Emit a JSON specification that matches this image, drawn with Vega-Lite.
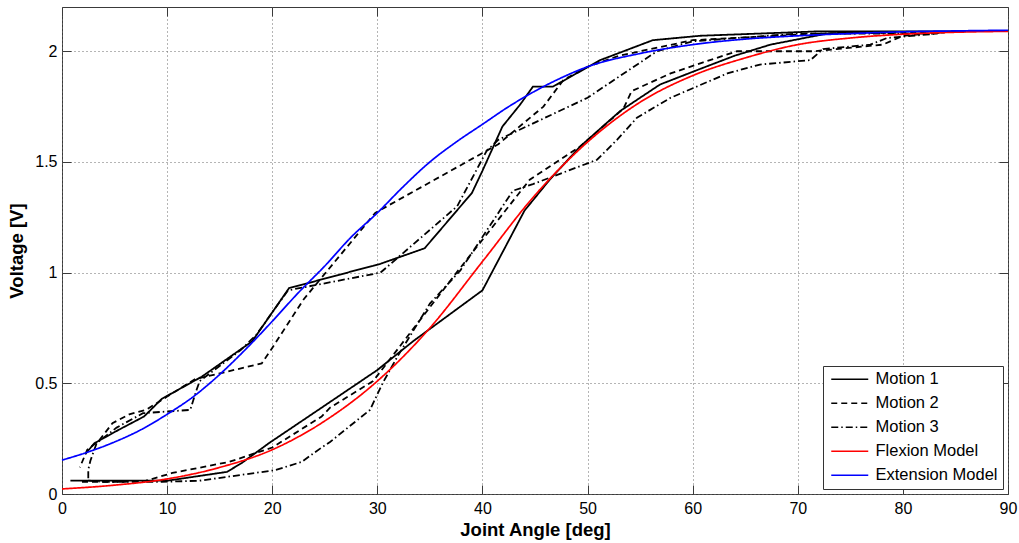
{
"$schema": "https://vega.github.io/schema/vega-lite/v6.json",
"width": 946, "height": 487,
"autosize": {"type": "none"},
"padding": {"left": 62, "top": 7, "right": 11, "bottom": 49},
"config": {
  "font": "Liberation Sans",
  "view": {"stroke": "#3a3a3a", "strokeWidth": 1},
  "axis": {"domain": false, "gridColor": "#6a6a6a", "gridDash": [1, 3], "gridWidth": 1, "gridOpacity": 1,
    "tickColor": "#3a3a3a", "tickSize": -9, "labelFontSize": 16, "labelColor": "black", "labelFont": "Liberation Sans",
    "titleFontSize": 18.5, "titleFontWeight": "bold", "titleColor": "black", "titleFont": "Liberation Sans", "labelFlush": false},
  "legend": {"orient": "bottom-right", "offset": 5, "padding": 5, "strokeColor": "#333", "fillColor": "white",
    "symbolType": "M-1,0H6.4", "symbolSize": 100, "symbolStrokeWidth": 1.6, "labelFontSize": 16.5, "labelColor": "black",
    "labelFont": "Liberation Sans", "labelOffset": 31, "rowPadding": 7, "labelLimit": 300}
},
"data": {"values": [
{"s":"Motion 1","o":1,"x":0.8,"y":0.06},{"s":"Motion 1","o":2,"x":6,"y":0.06},{"s":"Motion 1","o":3,"x":10,"y":0.06},{"s":"Motion 1","o":4,"x":15.7,"y":0.1},{"s":"Motion 1","o":5,"x":17.1,"y":0.14},{"s":"Motion 1","o":6,"x":19.7,"y":0.23},{"s":"Motion 1","o":7,"x":24.7,"y":0.39},{"s":"Motion 1","o":8,"x":30,"y":0.56},{"s":"Motion 1","o":9,"x":33.4,"y":0.69},{"s":"Motion 1","o":10,"x":40,"y":0.92},{"s":"Motion 1","o":11,"x":41,"y":1.01},{"s":"Motion 1","o":12,"x":44,"y":1.28},{"s":"Motion 1","o":13,"x":46.4,"y":1.42},{"s":"Motion 1","o":14,"x":49.3,"y":1.57},{"s":"Motion 1","o":15,"x":53.1,"y":1.73},{"s":"Motion 1","o":16,"x":56.9,"y":1.85},{"s":"Motion 1","o":17,"x":60.7,"y":1.92},{"s":"Motion 1","o":18,"x":64,"y":1.98},{"s":"Motion 1","o":19,"x":67.4,"y":2.03},{"s":"Motion 1","o":20,"x":72.8,"y":2.08},{"s":"Motion 1","o":21,"x":80,"y":2.09},{"s":"Motion 1","o":22,"x":86,"y":2.09},
{"s":"Motion 1","o":23,"x":72,"y":2.09},{"s":"Motion 1","o":24,"x":60.7,"y":2.07},{"s":"Motion 1","o":25,"x":56.2,"y":2.05},{"s":"Motion 1","o":26,"x":51.2,"y":1.96},{"s":"Motion 1","o":27,"x":46.7,"y":1.84},{"s":"Motion 1","o":28,"x":44.8,"y":1.84},{"s":"Motion 1","o":29,"x":43.6,"y":1.76},{"s":"Motion 1","o":30,"x":41.9,"y":1.66},{"s":"Motion 1","o":31,"x":40,"y":1.46},{"s":"Motion 1","o":32,"x":39,"y":1.36},{"s":"Motion 1","o":33,"x":34.5,"y":1.11},{"s":"Motion 1","o":34,"x":30.3,"y":1.04},{"s":"Motion 1","o":35,"x":21.6,"y":0.93},{"s":"Motion 1","o":36,"x":18.1,"y":0.69},{"s":"Motion 1","o":37,"x":13.3,"y":0.53},{"s":"Motion 1","o":38,"x":9.5,"y":0.43},{"s":"Motion 1","o":39,"x":7.8,"y":0.35},{"s":"Motion 1","o":40,"x":5.4,"y":0.29},{"s":"Motion 1","o":41,"x":3.1,"y":0.23},{"s":"Motion 1","o":42,"x":2.2,"y":0.18},
{"s":"Motion 2","o":1,"x":1.9,"y":0.055},{"s":"Motion 2","o":2,"x":6,"y":0.055},{"s":"Motion 2","o":3,"x":8,"y":0.06},{"s":"Motion 2","o":4,"x":10.5,"y":0.095},{"s":"Motion 2","o":5,"x":15.9,"y":0.145},{"s":"Motion 2","o":6,"x":20,"y":0.21},{"s":"Motion 2","o":7,"x":24.7,"y":0.35},{"s":"Motion 2","o":8,"x":25.5,"y":0.39},{"s":"Motion 2","o":9,"x":29.6,"y":0.51},{"s":"Motion 2","o":10,"x":33.4,"y":0.745},{"s":"Motion 2","o":11,"x":37.7,"y":1.01},{"s":"Motion 2","o":12,"x":44.5,"y":1.42},{"s":"Motion 2","o":13,"x":49.3,"y":1.57},{"s":"Motion 2","o":14,"x":53.4,"y":1.74},{"s":"Motion 2","o":15,"x":54.2,"y":1.82},{"s":"Motion 2","o":16,"x":57.9,"y":1.9},{"s":"Motion 2","o":17,"x":61,"y":1.95},{"s":"Motion 2","o":18,"x":64.2,"y":2.0},{"s":"Motion 2","o":19,"x":71.5,"y":2.0},{"s":"Motion 2","o":20,"x":78.1,"y":2.03},{"s":"Motion 2","o":21,"x":80,"y":2.07},{"s":"Motion 2","o":22,"x":84,"y":2.085},
{"s":"Motion 2","o":23,"x":72,"y":2.08},{"s":"Motion 2","o":24,"x":60,"y":2.05},{"s":"Motion 2","o":25,"x":53,"y":1.98},{"s":"Motion 2","o":26,"x":50,"y":1.93},{"s":"Motion 2","o":27,"x":47.7,"y":1.87},{"s":"Motion 2","o":28,"x":45.8,"y":1.75},{"s":"Motion 2","o":29,"x":41.5,"y":1.58},{"s":"Motion 2","o":30,"x":29.8,"y":1.27},{"s":"Motion 2","o":31,"x":23,"y":0.88},{"s":"Motion 2","o":32,"x":20,"y":0.66},{"s":"Motion 2","o":33,"x":19,"y":0.59},{"s":"Motion 2","o":34,"x":14.6,"y":0.54},{"s":"Motion 2","o":35,"x":12.7,"y":0.52},{"s":"Motion 2","o":36,"x":10,"y":0.44},{"s":"Motion 2","o":37,"x":8,"y":0.38},{"s":"Motion 2","o":38,"x":6.4,"y":0.36},{"s":"Motion 2","o":39,"x":4.8,"y":0.32},{"s":"Motion 2","o":40,"x":3.5,"y":0.24},{"s":"Motion 2","o":41,"x":2.4,"y":0.2},{"s":"Motion 2","o":42,"x":1.7,"y":0.12},
{"s":"Motion 3","o":1,"x":2.5,"y":0.06},{"s":"Motion 3","o":2,"x":4,"y":0.055},{"s":"Motion 3","o":3,"x":9.5,"y":0.055},{"s":"Motion 3","o":4,"x":13.1,"y":0.06},{"s":"Motion 3","o":5,"x":20.3,"y":0.108},{"s":"Motion 3","o":6,"x":22.8,"y":0.145},{"s":"Motion 3","o":7,"x":24.7,"y":0.21},{"s":"Motion 3","o":8,"x":25.5,"y":0.235},{"s":"Motion 3","o":9,"x":29.3,"y":0.38},{"s":"Motion 3","o":10,"x":30.5,"y":0.5},{"s":"Motion 3","o":11,"x":31.9,"y":0.62},{"s":"Motion 3","o":12,"x":35,"y":0.86},{"s":"Motion 3","o":13,"x":37.9,"y":1.01},{"s":"Motion 3","o":14,"x":42.9,"y":1.37},{"s":"Motion 3","o":15,"x":44.8,"y":1.4},{"s":"Motion 3","o":16,"x":50.9,"y":1.51},{"s":"Motion 3","o":17,"x":52.8,"y":1.6},{"s":"Motion 3","o":18,"x":54.7,"y":1.7},{"s":"Motion 3","o":19,"x":57.9,"y":1.79},{"s":"Motion 3","o":20,"x":63.3,"y":1.9},{"s":"Motion 3","o":21,"x":66.4,"y":1.94},{"s":"Motion 3","o":22,"x":71.2,"y":1.96},{"s":"Motion 3","o":23,"x":72.4,"y":2.01},{"s":"Motion 3","o":24,"x":76.9,"y":2.03},{"s":"Motion 3","o":25,"x":78.5,"y":2.06},{"s":"Motion 3","o":26,"x":83.3,"y":2.08},
{"s":"Motion 3","o":27,"x":70,"y":2.08},{"s":"Motion 3","o":28,"x":60,"y":2.045},{"s":"Motion 3","o":29,"x":56.6,"y":2.0},{"s":"Motion 3","o":30,"x":50,"y":1.79},{"s":"Motion 3","o":31,"x":41.5,"y":1.6},{"s":"Motion 3","o":32,"x":40.4,"y":1.55},{"s":"Motion 3","o":33,"x":37.6,"y":1.3},{"s":"Motion 3","o":34,"x":30.3,"y":1.0},{"s":"Motion 3","o":35,"x":21.5,"y":0.92},{"s":"Motion 3","o":36,"x":18.5,"y":0.72},{"s":"Motion 3","o":37,"x":17,"y":0.65},{"s":"Motion 3","o":38,"x":13.1,"y":0.51},{"s":"Motion 3","o":39,"x":12.8,"y":0.47},{"s":"Motion 3","o":40,"x":12.2,"y":0.38},{"s":"Motion 3","o":41,"x":7.7,"y":0.365},{"s":"Motion 3","o":42,"x":5.2,"y":0.3},{"s":"Motion 3","o":43,"x":3.3,"y":0.23},{"s":"Motion 3","o":44,"x":2.7,"y":0.15},{"s":"Motion 3","o":45,"x":2.5,"y":0.11},{"s":"Motion 3","o":46,"x":2.5,"y":0.06},
{"s":"Flexion Model","o":1,"x":0,"y":0.023},{"s":"Flexion Model","o":2,"x":5,"y":0.04},{"s":"Flexion Model","o":3,"x":10,"y":0.068},{"s":"Flexion Model","o":4,"x":15,"y":0.12},{"s":"Flexion Model","o":5,"x":20,"y":0.2},{"s":"Flexion Model","o":6,"x":25,"y":0.33},{"s":"Flexion Model","o":7,"x":30,"y":0.51},{"s":"Flexion Model","o":8,"x":35,"y":0.75},{"s":"Flexion Model","o":9,"x":40,"y":1.05},{"s":"Flexion Model","o":10,"x":45,"y":1.35},{"s":"Flexion Model","o":11,"x":50,"y":1.59},{"s":"Flexion Model","o":12,"x":55,"y":1.77},{"s":"Flexion Model","o":13,"x":60,"y":1.89},{"s":"Flexion Model","o":14,"x":65,"y":1.97},{"s":"Flexion Model","o":15,"x":70,"y":2.03},{"s":"Flexion Model","o":16,"x":75,"y":2.06},{"s":"Flexion Model","o":17,"x":80,"y":2.077},{"s":"Flexion Model","o":18,"x":85,"y":2.086},{"s":"Flexion Model","o":19,"x":90,"y":2.09},
{"s":"Extension Model","o":1,"x":0,"y":0.153},{"s":"Extension Model","o":2,"x":2.5,"y":0.19},{"s":"Extension Model","o":3,"x":5,"y":0.235},{"s":"Extension Model","o":4,"x":7.5,"y":0.29},{"s":"Extension Model","o":5,"x":10,"y":0.36},{"s":"Extension Model","o":6,"x":12.5,"y":0.44},{"s":"Extension Model","o":7,"x":15,"y":0.54},{"s":"Extension Model","o":8,"x":17.5,"y":0.655},{"s":"Extension Model","o":9,"x":20,"y":0.78},{"s":"Extension Model","o":10,"x":22.5,"y":0.91},{"s":"Extension Model","o":11,"x":25,"y":1.03},{"s":"Extension Model","o":12,"x":27.5,"y":1.16},{"s":"Extension Model","o":13,"x":30,"y":1.27},{"s":"Extension Model","o":14,"x":32.5,"y":1.39},{"s":"Extension Model","o":15,"x":35,"y":1.5},{"s":"Extension Model","o":16,"x":37.5,"y":1.59},{"s":"Extension Model","o":17,"x":40,"y":1.67},{"s":"Extension Model","o":18,"x":42.5,"y":1.75},{"s":"Extension Model","o":19,"x":45,"y":1.82},{"s":"Extension Model","o":20,"x":47.5,"y":1.88},{"s":"Extension Model","o":21,"x":50,"y":1.93},{"s":"Extension Model","o":22,"x":55,"y":1.99},{"s":"Extension Model","o":23,"x":60,"y":2.03},{"s":"Extension Model","o":24,"x":65,"y":2.055},{"s":"Extension Model","o":25,"x":70,"y":2.07},{"s":"Extension Model","o":26,"x":75,"y":2.08},{"s":"Extension Model","o":27,"x":80,"y":2.088},{"s":"Extension Model","o":28,"x":85,"y":2.092},{"s":"Extension Model","o":29,"x":90,"y":2.095}
]},
"encoding": {
  "x": {"field": "x", "type": "quantitative", "scale": {"domain": [0, 90], "nice": false, "zero": false},
    "axis": {"values": [0,10,20,30,40,50,60,70,80,90], "format": "d", "title": "Joint Angle [deg]", "labelPadding": 15, "titlePadding": 4, "grid": true}},
  "y": {"field": "y", "type": "quantitative", "scale": {"domain": [0, 2.2], "nice": false, "zero": false},
    "axis": {"values": [0, 0.5, 1, 1.5, 2], "format": ".1~f", "title": "Voltage [V]", "labelPadding": 14, "titlePadding": 8, "grid": true}},
  "color": {"field": "s", "type": "nominal", "title": null,
    "scale": {"domain": ["Motion 1", "Motion 2", "Motion 3", "Flexion Model", "Extension Model"], "range": ["black", "black", "black", "#ff0000", "#0000ff"]}},
  "strokeDash": {"field": "s", "type": "nominal", "title": null,
    "scale": {"domain": ["Motion 1", "Motion 2", "Motion 3", "Flexion Model", "Extension Model"], "range": [[1, 0], [6, 4], [7, 3, 1.5, 3], [1, 0], [1, 0]]}},
  "order": {"field": "o", "type": "quantitative"}
},
"layer": [
  {"transform": [{"filter": "indexof(datum.s, 'Motion') == 0"}],
   "mark": {"type": "line", "strokeWidth": 1.8}},
  {"transform": [{"filter": "indexof(datum.s, 'Model') > 0"}],
   "mark": {"type": "line", "strokeWidth": 1.7, "interpolate": "monotone"},
   "encoding": {
     "x": {"field": "x", "type": "quantitative", "scale": {"domain": [0, 90], "nice": false, "zero": false},
       "axis": {"orient": "top", "values": [0,10,20,30,40,50,60,70,80,90], "labels": false, "title": null, "grid": false}},
     "y": {"field": "y", "type": "quantitative", "scale": {"domain": [0, 2.2], "nice": false, "zero": false},
       "axis": {"orient": "right", "values": [0, 0.5, 1, 1.5, 2], "labels": false, "title": null, "grid": false}}
   }}
],
"resolve": {"axis": {"x": "independent", "y": "independent"}}
}
